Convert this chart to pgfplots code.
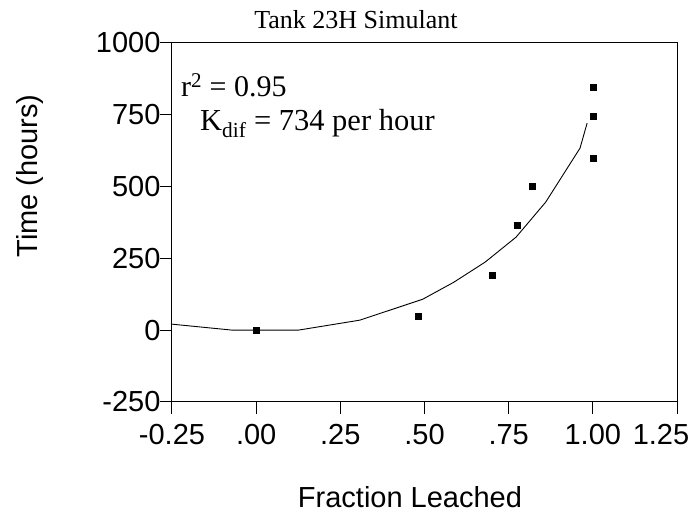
\documentclass[border=0pt]{standalone}
\usepackage{fontspec}
\setmainfont{Liberation Serif}
\setsansfont{Liberation Sans}
\usepackage{pgfplots}
\pgfplotsset{compat=1.18}
\begin{document}
\begin{tikzpicture}[x=1pt,y=1pt]
\path[use as bounding box] (-172,-117) rectangle (524,402);
\begin{axis}[
  at={(0,0)}, anchor=south west,
  scale only axis, width=505pt, height=359pt,
  xmin=-0.25, xmax=1.25, ymin=-250, ymax=1000,
  xtick={-0.25,0,0.25,0.5,0.75,1.0,1.25},
  xticklabels={-0.25,.00,.25,.50,.75,1.00,\hspace*{-32pt}1.25},
  ytick={-250,0,250,500,750,1000},
  yticklabels={-250,0,250,500,750,1000},
  tick align=outside, tick pos=left,
  major tick length=12pt,
  tick style={black, line width=1pt},
  axis line style={line width=1pt},
  ticklabel style={font=\sffamily\fontsize{29}{32}\selectfont},
  xticklabel style={yshift=-7pt},
  yticklabel style={xshift=4pt},
  clip=false,
]
\addplot[black, line width=0.9pt, mark=none] coordinates {
(-0.25,21) (-0.069,0) (0.124,0) (0.308,35) (0.495,108) (0.587,167) (0.68,237) (0.772,324) (0.86,446) (0.962,634) (0.983,721)
};
\addplot[only marks, mark=square*, mark size=3pt, black] coordinates {
(0,0) (0.48,50) (0.70,191) (0.775,366) (0.82,502) (1.0,845) (1.0,746) (1.0,600)
};
\end{axis}
\node[anchor=base west, inner sep=0pt, font=\fontsize{30}{34}\selectfont] at (9,305) {r\textsuperscript{2} = 0.95};
\node[anchor=base west, inner sep=0pt, font=\fontsize{30.5}{34}\selectfont] at (28,271) {K\textsubscript{dif} = 734 per hour};
\node[inner sep=0pt, font=\fontsize{26}{30}\selectfont] at (184,382) {Tank 23H Simulant};
\node[inner sep=0pt, font=\sffamily\fontsize{29}{32}\selectfont] at (238,-95) {Fraction Leached};
\node[inner sep=0pt, rotate=90, font=\sffamily\fontsize{29}{32}\selectfont] at (-142,226) {Time (hours)};
\end{tikzpicture}
\end{document}
